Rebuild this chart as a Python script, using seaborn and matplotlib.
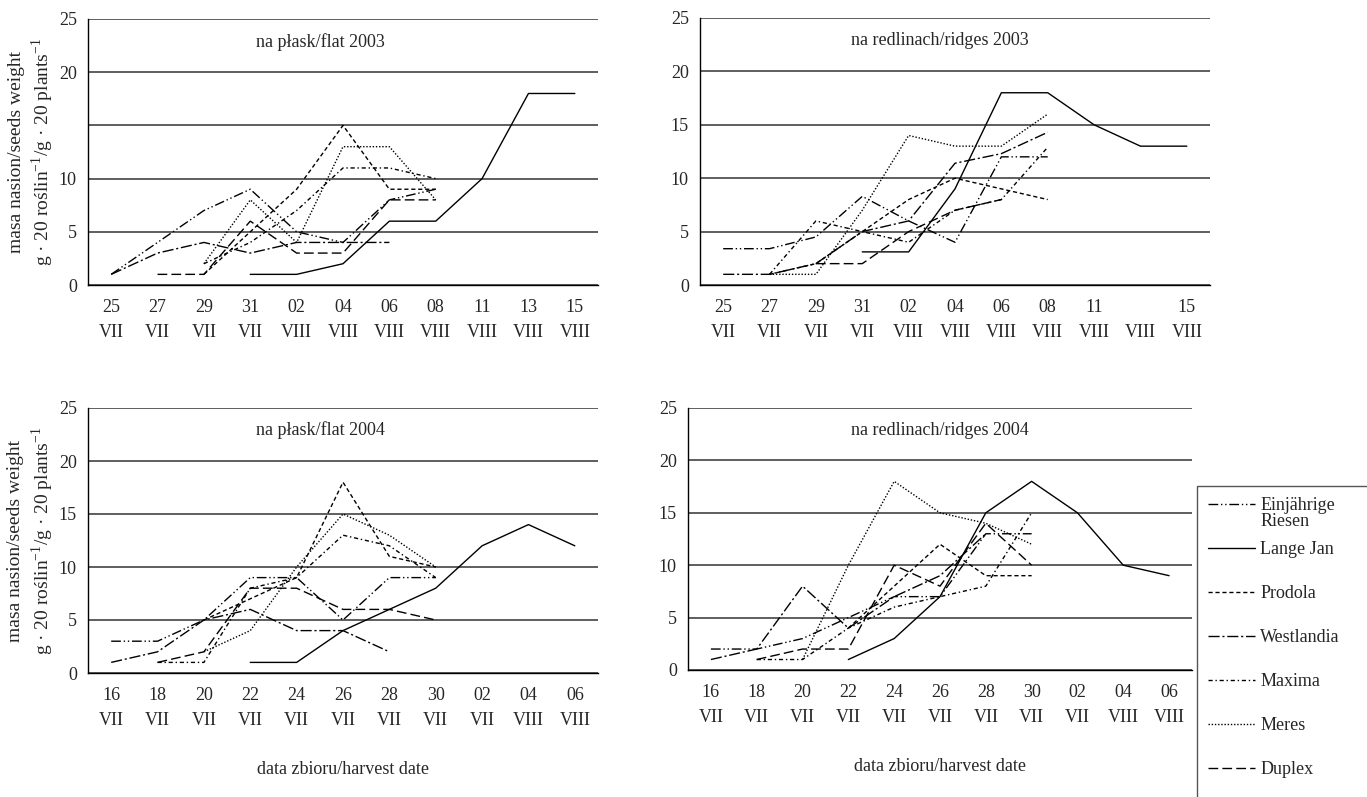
import matplotlib.pyplot as plt
import matplotlib.lines as mlines
from matplotlib.patches import Rectangle
import numpy as np
import pandas as pd
import seaborn as sns

nan = np.nan

varieties = ['Einjährige Riesen', 'Lange Jan', 'Prodola', 'Westlandia',
             'Maxima', 'Meres', 'Duplex']

# tick labels (dates)
dates_2003 = ['25\nVII', '27\nVII', '29\nVII', '31\nVII', '02\nVIII', '04\nVIII',
              '06\nVIII', '08\nVIII', '11\nVIII', '13\nVIII', '15\nVIII']
dates_2003_r = ['25\nVII', '27\nVII', '29\nVII', '31\nVII', '02\nVIII', '04\nVIII',
                '06\nVIII', '08\nVIII', '11\nVIII', '\nVIII', '15\nVIII']
dates_2004 = ['16\nVII', '18\nVII', '20\nVII', '22\nVII', '24\nVII', '26\nVII',
              '28\nVII', '30\nVII', '02\nVII', '04\nVIII', '06\nVIII']

# seed weight, g per 20 plants
flat_2003 = {
    'Einjährige Riesen': [1, 4, 7, 9, 5, 4, 8, 9],
    'Lange Jan': [nan, nan, nan, 1, 1, 2, 6, 6, 10, 18, 18],
    'Prodola': [nan, nan, 1, 5, 9, 15, 9, 9],
    'Westlandia': [1, 3, 4, 3, 4, 4, 4],
    'Maxima': [nan, nan, 2, 4, 7, 11, 11, 10],
    'Meres': [nan, nan, 2, 8, 4, 13, 13, 8],
    'Duplex': [nan, 1, 1, 6, 3, 3, 8, 8],
}
ridges_2003 = {
    'Einjährige Riesen': [3.4, 3.4, 4.5, 8.3, 6, 4, 12, 12],
    'Lange Jan': [nan, nan, nan, 3.1, 3.1, 9, 18, 18, 15, 13, 13],
    'Prodola': [nan, 1, 2, 5, 8, 10, 9, 8],
    'Westlandia': [1, 1, 2, 5, 6, 11.4, 12.3, 14.3],
    'Maxima': [nan, 1, 6, 5, 4, 7, 8, 12.9],
    'Meres': [nan, 1, 1, 7, 14, 13, 13, 16],
    'Duplex': [nan, nan, 2, 2, 5, 7, 8],
}
flat_2004 = {
    'Einjährige Riesen': [3, 3, 5, 9, 9, 5, 9, 9],
    'Lange Jan': [nan, nan, nan, 1, 1, 4, 6, 8, 12, 14, 12],
    'Prodola': [nan, nan, 5, 7, 9, 18, 11, 10],
    'Westlandia': [1, 2, 5, 6, 4, 4, 2],
    'Maxima': [nan, 1, 1, 8, 9, 13, 12, 9],
    'Meres': [nan, nan, 2, 4, 10, 15, 13, 10],
    'Duplex': [nan, 1, 2, 8, 8, 6, 6, 5],
}
ridges_2004 = {
    'Einjährige Riesen': [2, 2, 3, 5, 7, 7, 13, 13],
    'Lange Jan': [nan, nan, nan, 1, 3, 7, 15, 18, 15, 10, 9],
    'Prodola': [nan, nan, nan, 4, 8, 12, 9, 9],
    'Westlandia': [1, 2, 8, 4, 7, 9, 13],
    'Maxima': [nan, 1, 1, 4, 6, 7, 8, 15],
    'Meres': [nan, nan, 1, 10, 18, 15, 14, 12],
    'Duplex': [nan, 1, 2, 2, 10, 8, 14, 10],
}

dash_map = {
    'Einjährige Riesen': (7, 2, 1, 2, 1, 2),
    'Lange Jan': '',
    'Prodola': (3, 2),
    'Westlandia': (8, 2, 1.5, 2),
    'Maxima': (3, 2, 1, 2),
    'Meres': (1, 1.3),
    'Duplex': (7, 3),
}

sns.set_style('white')
plt.rcParams['font.family'] = ['Liberation Serif', 'DejaVu Serif']
plt.rcParams['mathtext.fontset'] = 'custom'
plt.rcParams['mathtext.rm'] = 'Liberation Serif'
plt.rcParams['font.size'] = 13

W, H = 1367, 797
fig = plt.figure(figsize=(W / 100, H / 100), dpi=100)


def box(l, t, r, b):
    return [l / W, 1 - b / H, (r - l) / W, (b - t) / H]


panels = [
    (box(88, 19, 598, 285), flat_2003, dates_2003, 'na płask/flat 2003', 0.455, True, False),
    (box(700, 18, 1210, 285), ridges_2003, dates_2003_r, 'na redlinach/ridges 2003', 0.47, False, False),
    (box(88, 408, 598, 673), flat_2004, dates_2004, 'na płask/flat 2004', 0.455, True, True),
    (box(688, 408, 1192, 670), ridges_2004, dates_2004, 'na redlinach/ridges 2004', 0.50, False, True),
]

for pos, data, dates, title, tx, ylab, xlab in panels:
    ax = fig.add_axes(pos)
    rows = []
    for v in varieties:
        for i, m in enumerate(data[v]):
            if not np.isnan(m):
                rows.append((v, i, m))
    df = pd.DataFrame(rows, columns=['variety', 'pos', 'mass'])
    sns.lineplot(data=df, x='pos', y='mass', style='variety', style_order=varieties,
                 dashes=dash_map, color='black', linewidth=1, legend=False, ax=ax)

    ax.set_xlim(-0.5, len(dates) - 0.5)
    ax.set_ylim(0, 25)
    ax.set_yticks([0, 5, 10, 15, 20, 25])
    if title == 'na płask/flat 2003':
        ax.set_yticklabels(['0', '5', '10', '', '20', '25'])
    ax.yaxis.grid(True, color='#333333', linewidth=1.1)
    ax.set_axisbelow(True)
    ax.set_xticks(range(len(dates)))
    ax.set_xticklabels(dates, linespacing=1.6)
    ax.set_xticks(np.arange(-0.5, len(dates)), minor=True)
    ax.tick_params(axis='x', which='major', length=0, pad=10, labelsize=13)
    ax.tick_params(axis='x', which='minor', length=6, width=1, direction='out', color='black')
    ax.tick_params(axis='y', length=5, width=1, direction='out', color='black', labelsize=13, pad=3)
    for s in ['top', 'right']:
        ax.spines[s].set_visible(False)
    for s in ['left', 'bottom']:
        ax.spines[s].set_color('black')
        ax.spines[s].set_linewidth(1)
    ax.text(tx, 0.915, title, transform=ax.transAxes, ha='center', va='center', fontsize=13)
    if ylab:
        ax.set_ylabel('masa nasion/seeds weight\ng · 20 roślin$^{-1}$/g · 20 plants$^{-1}$',
                      fontsize=14, labelpad=2, linespacing=1.25)
    else:
        ax.set_ylabel('')
    if xlab:
        ax.set_xlabel('data zbioru/harvest date', fontsize=13, labelpad=23)
    else:
        ax.set_xlabel('')

handles = []
for v in varieties:
    if dash_map[v] == '':
        h = mlines.Line2D([], [], color='black', linewidth=1, linestyle='-')
    else:
        h = mlines.Line2D([], [], color='black', linewidth=1, dashes=dash_map[v])
    handles.append(h)
labels = ['Einjährige'] + varieties[1:]
leg = fig.legend(handles, labels, loc='upper left', bbox_to_anchor=(1197 / W, 1 - 486 / H),
                 frameon=False, fontsize=13,
                 handlelength=2.6, handletextpad=0.3, labelspacing=1.5, borderpad=0.6,
                 borderaxespad=0)

# second line of the first legend label, and a frame running off the page
fig.canvas.draw()
bb = leg.get_texts()[0].get_window_extent()
fig.text(bb.x0 / W, (bb.y0 + 1) / H, 'Riesen', ha='left', va='top', fontsize=13, zorder=6)
lb = leg.get_window_extent()
fig.patches.append(Rectangle((lb.x0 / W, -0.05), 0.5, lb.y1 / H + 0.05,
                             transform=fig.transFigure, fill=False,
                             edgecolor='#555555', linewidth=1, zorder=4))

fig.savefig('out.png', dpi=100)
